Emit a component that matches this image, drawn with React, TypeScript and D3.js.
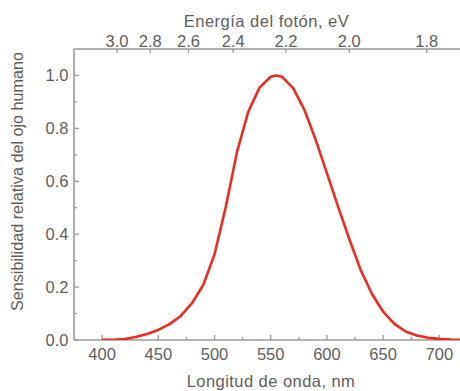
import React from "react";
import * as d3 from "d3";

const wavelengths = [400, 410, 420, 430, 440, 450, 460, 470, 480, 490, 500, 510, 520, 530, 540, 550, 555, 560, 570, 580, 590, 600, 610, 620, 630, 640, 650, 660, 670, 680, 690, 700, 710, 720];
const sensitivity = [0.0004, 0.0012, 0.004, 0.0116, 0.023, 0.038, 0.06, 0.091, 0.139, 0.208, 0.323, 0.503, 0.71, 0.862, 0.954, 0.995, 1.0, 0.995, 0.952, 0.87, 0.757, 0.631, 0.503, 0.381, 0.265, 0.175, 0.107, 0.061, 0.032, 0.017, 0.0082, 0.0041, 0.0021, 0.00105];
const xTicks = [400, 450, 500, 550, 600, 650, 700];
const xMinor = [425, 475, 525, 575, 625, 675, 725];
const yTicks = [0, 0.2, 0.4, 0.6, 0.8, 1.0];
const yMinor = [0.1, 0.3, 0.5, 0.7, 0.9];
const eTicks = [3.0, 2.8, 2.6, 2.4, 2.2, 2.0, 1.8];
const HC = 1239.84;

const W = 460, H = 391;
const left = 74, top = 49, bottom = 340;

export default function App() {
  const x = d3.scaleLinear().domain([375, 720]).range([left, 461.8]);
  const y = d3.scaleLinear().domain([0, 1.1]).range([bottom, top]);
  const line = d3.line<number>().x((d, i) => x(wavelengths[i])).y((d) => y(d));
  const axisColor = "#9a9a9a";
  const textColor = "#5e5e5e";
  const font = "'Liberation Sans', Arial, sans-serif";
  const fs = 16.5;
  return (
    <svg width={W} height={H} style={{ position: "absolute", left: 0, top: 0 }} fontFamily={font}>
      <defs>
        <clipPath id="plot">
          <rect x={left} y={top} width={W - left} height={bottom - top} />
        </clipPath>
      </defs>
      <rect width={W} height={H} fill="#fff" />
      <line x1={left} x2={left} y1={top} y2={bottom} stroke={axisColor} strokeWidth={1.6} />
      <line x1={left} x2={W} y1={bottom} y2={bottom} stroke={axisColor} strokeWidth={1.6} />
      <line x1={left} x2={W} y1={top} y2={top} stroke={axisColor} strokeWidth={1.6} />
      {xTicks.map((t) => (
        <g key={"xt" + t}>
          <line x1={x(t)} x2={x(t)} y1={bottom} y2={bottom - 5} stroke={axisColor} strokeWidth={1.3} />
          <text x={x(t)} y={359.5} textAnchor="middle" fontSize={fs} fill={textColor}>{t}</text>
        </g>
      ))}
      {xMinor.filter((t) => x(t) < W).map((t) => (
        <line key={"xm" + t} x1={x(t)} x2={x(t)} y1={bottom} y2={bottom - 3} stroke={axisColor} strokeWidth={1.2} />
      ))}
      {yTicks.map((t) => (
        <g key={"yt" + t}>
          <line x1={left} x2={left + 5} y1={y(t)} y2={y(t)} stroke={axisColor} strokeWidth={1.3} />
          <text x={68.5} y={y(t) + 5.8} textAnchor="end" fontSize={fs} fill={textColor}>{t.toFixed(1)}</text>
        </g>
      ))}
      {yMinor.map((t) => (
        <line key={"ym" + t} x1={left} x2={left + 3} y1={y(t)} y2={y(t)} stroke={axisColor} strokeWidth={1.2} />
      ))}
      {eTicks.map((e) => (
        <g key={"et" + e}>
          <line x1={x(HC / e)} x2={x(HC / e)} y1={top} y2={top + 4} stroke={axisColor} strokeWidth={1.3} />
          <text x={x(HC / e)} y={46.5} textAnchor="middle" fontSize={fs} fill={textColor}>{e.toFixed(1)}</text>
        </g>
      ))}
      <text x={266.5} y={26.5} textAnchor="middle" fontSize={fs} letterSpacing={0.5} fill={textColor}>Energía del fotón, eV</text>
      <text x={271} y={386.7} textAnchor="middle" fontSize={fs} letterSpacing={0.45} fill={textColor}>Longitud de onda, nm</text>
      <text transform="translate(23,181.5) rotate(-90)" textAnchor="middle" fontSize={16.2} fill={textColor}>Sensibilidad relativa del ojo humano</text>
      <path d={line(sensitivity) || ""} fill="none" stroke="#ee2b1f" strokeWidth={2.6} strokeLinejoin="round" clipPath="url(#plot)" />
    </svg>
  );
}
